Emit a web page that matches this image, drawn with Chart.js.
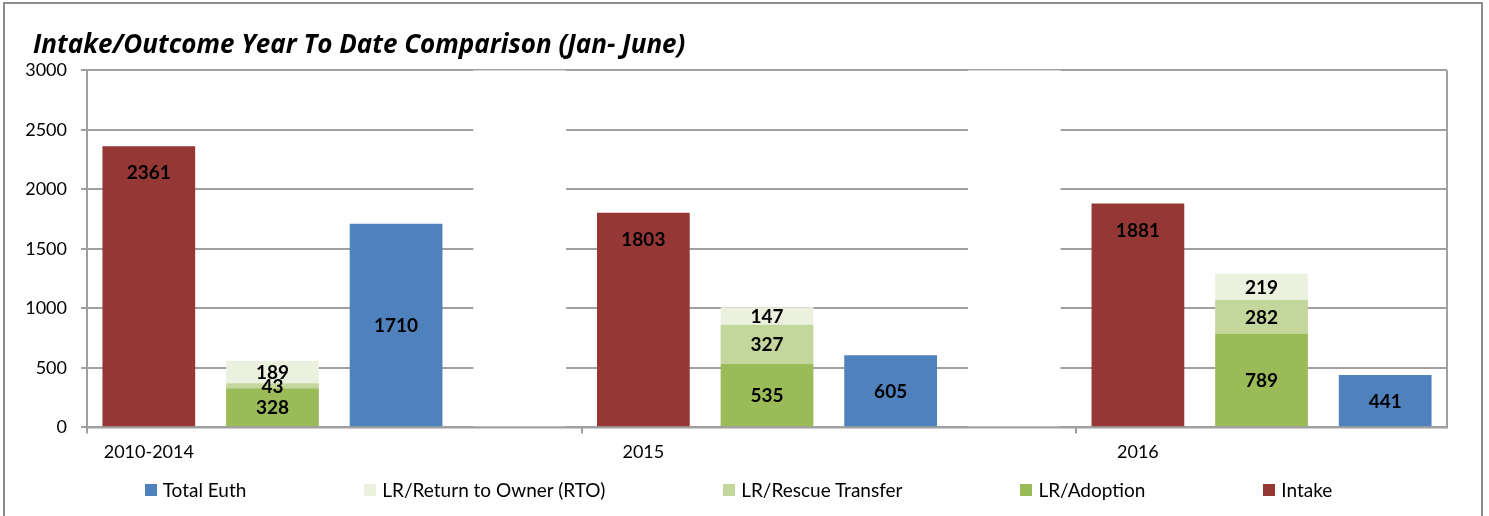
<!DOCTYPE html>
<html>
<head>
<meta charset="utf-8">
<script src="https://cdn.jsdelivr.net/npm/chart.js@4/dist/chart.umd.min.js"></script>
<style>
  body { margin: 0; background: #fff; }
  #wrap { position: relative; width: 1489px; height: 516px; overflow: hidden; }
  #frame { position: absolute; left: 3px; top: 2px; width: 1476px; height: 600px; border: 2px solid #8c8c8c; pointer-events: none; }
  #legend { position: absolute; left: -6px; top: 478px; width: 1489px; display: flex; justify-content: center; gap: 118px; font: 19px Lato, sans-serif; color: #000; }
  #legend span.item { display: flex; align-items: center; }
  #legend span.box { display: inline-block; width: 12px; height: 12px; margin-right: 6px; }
</style>
</head>
<body>
<div id="wrap">
  <canvas id="canvas" width="1489" height="516"></canvas>
  <div id="legend"></div>
  <div id="frame"></div>
</div>
<script>
// values
var periods = ["2010-2014", "2015", "2016"];
var intake = [2361, 1803, 1881];
var adoption = [328, 535, 789];
var rescue = [43, 327, 282];
var rto = [189, 147, 219];
var euth = [1710, 605, 441];
var yTicks = { min: 0, max: 3000, step: 500 };

// each period takes 4 slots: intake, LR stack, euth, empty spacer
var slotsPer = 4;
var nSlots = periods.length * slotsPer - 1;
var labels = [];
for (var i = 0; i < nSlots; i++) {
  labels.push(i % slotsPer === 0 ? periods[i / slotsPer] : "");
}
function place(values, offset) {
  var out = new Array(nSlots).fill(null);
  values.forEach(function (v, p) {
    var idx = p * slotsPer + offset;
    if (idx < nSlots) out[idx] = v;
  });
  return out;
}
var spacer = place(periods.map(function () { return yTicks.max; }), 3);

var gridGray = "#a0a0a0";

var valueLabels = {
  id: "valueLabels",
  afterDatasetsDraw: function (chart) {
    var ctx = chart.ctx;
    ctx.save();
    ctx.font = "bold 19px Lato, sans-serif";
    ctx.fillStyle = "#000";
    ctx.textAlign = "center";
    ctx.textBaseline = "middle";
    chart.data.datasets.forEach(function (ds, di) {
      if (ds.spacer) return;
      chart.getDatasetMeta(di).data.forEach(function (bar, i) {
        var v = ds.data[i];
        if (v == null) return;
        // intake labels sit near the top of the bar, the rest in the middle
        var y = ds.labelAtEnd ? bar.y + 27 : (bar.y + bar.base) / 2 + 1;
        ctx.fillText(v, bar.x, y);
      });
    });
    ctx.restore();
  }
};

var plotBorder = {
  id: "plotBorder",
  afterLayout: function (chart) {
    // title starts a bit right of the y tick labels
    chart.titleBlock.left += 15;
  },
  afterDraw: function (chart) {
    var a = chart.chartArea, ctx = chart.ctx;
    ctx.save();
    ctx.strokeStyle = gridGray;
    ctx.lineWidth = 2;
    ctx.beginPath();
    ctx.moveTo(a.left, a.bottom);
    ctx.lineTo(a.right, a.bottom);
    ctx.lineTo(a.right, a.top);
    ctx.stroke();
    ctx.restore();
  }
};

Chart.defaults.font.family = "Lato, sans-serif";
Chart.defaults.font.size = 18;
Chart.defaults.color = "#000";

var ctx = document.getElementById("canvas").getContext("2d");
var myChart = new Chart(ctx, {
  type: "bar",
  data: {
    labels: labels,
    datasets: [
      { label: "Intake", data: place(intake, 0), backgroundColor: "#953735", labelAtEnd: true },
      { label: "LR/Adoption", data: place(adoption, 1), backgroundColor: "#9bbb59" },
      { label: "LR/Rescue Transfer", data: place(rescue, 1), backgroundColor: "#c3d69b" },
      { label: "LR/Return to Owner (RTO)", data: place(rto, 1), backgroundColor: "#ebf1de" },
      { label: "Total Euth", data: place(euth, 2), backgroundColor: "#4f81bd" },
      { label: "", data: spacer, backgroundColor: "#ffffff", spacer: true },
    ],
  },
  options: {
    responsive: false,
    animation: false,
    barPercentage: 0.75,
    categoryPercentage: 1,
    layout: { padding: { left: 18, right: 42, top: 30, bottom: 45 } },
    plugins: {
      legend: { display: false },
      tooltip: { enabled: false },
      title: {
        display: true,
        text: "Intake/Outcome Year To Date Comparison (Jan- June)",
        align: "start",
        color: "#000",
        font: { family: "'Open Sans', sans-serif", size: 26, weight: "bold", style: "italic" },
        padding: { top: 0, bottom: 9 },
      },
    },
    scales: {
      x: {
        stacked: true,
        ticks: { autoSkip: false, maxRotation: 0, padding: 8, font: { size: 18 } },
        grid: {
          drawOnChartArea: false,
          tickLength: 6,
          lineWidth: 2,
          color: function (c) { return c.index % slotsPer === 0 ? gridGray : "rgba(0,0,0,0)"; },
        },
        border: { color: gridGray, width: 2 },
      },
      y: {
        stacked: true,
        min: yTicks.min,
        max: yTicks.max,
        ticks: {
          stepSize: yTicks.step,
          padding: 14,
          font: { size: 18 },
          callback: function (v) { return String(v); },
        },
        grid: { color: gridGray, lineWidth: 2, tickLength: 6 },
        border: { color: gridGray, width: 2 },
        afterFit: function (axis) { axis.width = 69; },
      },
    },
  },
  plugins: [valueLabels, plotBorder],
});

// legend in the order of the picture
var legendOrder = ["Total Euth", "LR/Return to Owner (RTO)", "LR/Rescue Transfer", "LR/Adoption", "Intake"];
var legendEl = document.getElementById("legend");
legendOrder.forEach(function (name) {
  var ds = myChart.data.datasets.find(function (d) { return d.label === name; });
  var item = document.createElement("span");
  item.className = "item";
  var box = document.createElement("span");
  box.className = "box";
  box.style.background = ds.backgroundColor;
  item.appendChild(box);
  item.appendChild(document.createTextNode(name));
  legendEl.appendChild(item);
});
</script>
</body>
</html>
